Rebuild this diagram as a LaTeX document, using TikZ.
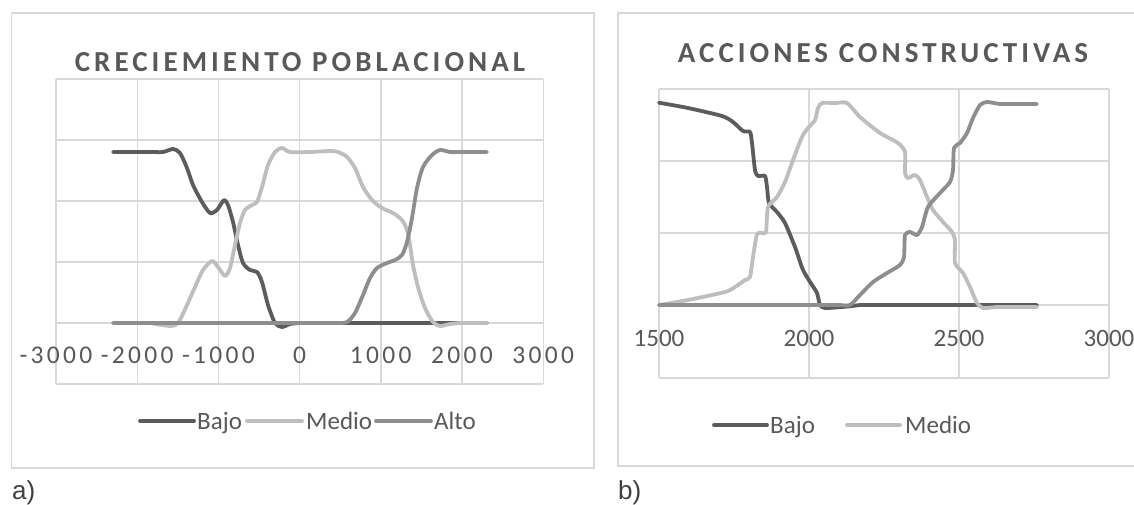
\documentclass[tikz,border=0pt]{standalone}
\usepackage{fontspec}
\setmainfont{Carlito}
\newfontfamily\ttlfont{Carlito}[LetterSpace=14]
\newfontfamily\tickafont{Carlito}[LetterSpace=13]
\newfontfamily\capfont{Liberation Sans}
\definecolor{bajoc}{RGB}{92,92,92}
\definecolor{medioc}{RGB}{190,190,190}
\definecolor{altoc}{RGB}{142,142,142}
\definecolor{gridc}{RGB}{217,217,217}
\definecolor{txtc}{RGB}{89,89,89}
\tikzset{
  frame/.style={draw=gridc, line width=1.6},
  gridline/.style={draw=gridc, line width=1.4},
  curve/.style={line width=3.8, line cap=round, line join=round},
  legline/.style={line width=3.8, line cap=round},
  ticka/.style={inner sep=0, text=txtc, font=\tickafont\fontsize{25.5}{28}\selectfont},
  tickb/.style={inner sep=0, text=txtc, font=\fontsize{25}{28}\selectfont},
  legtext/.style={inner sep=0, anchor=base west, text=txtc, font=\fontsize{25}{28}\selectfont},
  ttl/.style={inner sep=0, anchor=base, text=txtc, font=\ttlfont\bfseries\fontsize{29}{32}\selectfont},
  captxt/.style={inner sep=0, anchor=base west, text=black!75, font=\capfont\fontsize{26}{28}\selectfont}
}
\begin{document}
\begin{tikzpicture}[x=1pt,y=-1pt]
\useasboundingbox (0,0) rectangle (1134,504);
\fill[white] (0,0) rectangle (1134,504);

% ---------------- chart a ----------------
\draw[frame] (11.5,13) rectangle (594,468);
\foreach \x in {56,137.2,218.4,299.6,380.8,462,543.2} \draw[gridline] (\x,79) -- (\x,384);
\foreach \y in {79,140,201,262,323,384} \draw[gridline] (56,\y) -- (543.2,\y);

\node[ttl] (titlea) at (300,71.7) {CRECIEMIENTO POBLACIONAL};

\foreach \x/\t [count=\i] in {56/-3000,137.2/-2000,218.4/-1000,299.6/0,380.8/1000,462/2000,543.2/3000}
  \node[ticka] (ta\i) at (\x,355) {\t};

% Bajo a
\draw[curve, bajoc] plot[smooth, tension=0.45] coordinates {
 (113,152) (150,152) (163,152) (173,149) (180,153) (187,168) (193,185) (202,202) (210,213)
 (217,210) (224,200) (228,205) (233,222) (238,245) (243,263) (250,270) (257,272) (262,282)
 (268,305) (275,323) (282,327) (290,324) (300,323)} -- (487,323);
% Medio a
\draw[curve, medioc] (113,323) -- (150,323) plot[smooth, tension=0.45] coordinates {
 (150,323) (170,326) (178,323) (187,305) (195,287) (203,270) (212,261) (218,267) (225,276)
 (230,268) (235,245) (240,223) (245,210) (252,205) (257,202) (262,187) (268,165) (275,152)
 (282,148) (290,152) (310,152) (330,151) (338,152) (347,157) (355,168) (363,187) (372,200)
 (382,208) (393,213) (402,220) (407,230) (410,245) (413,265) (418,287) (425,308) (433,322)
 (440,326) (450,324) (460,323)} -- (487,323);
% Alto a
\draw[curve, altoc] (113,323) -- (320,323) plot[smooth, tension=0.45] coordinates {
 (320,323) (337,323) (347,322) (355,313) (363,295) (370,278) (377,268) (387,263) (395,260)
 (402,255) (407,242) (412,218) (417,188) (423,167) (432,155) (440,150) (450,152) (460,152)} -- (487,152);

% legend a
\coordinate (lba1) at (140,421); \coordinate (lba2) at (194,421);
\draw[legline, bajoc] (lba1) -- (lba2);
\node[legtext] (lta1) at (197,429) {Bajo};
\coordinate (lma1) at (247,421); \coordinate (lma2) at (302,421);
\draw[legline, medioc] (lma1) -- (lma2);
\node[legtext] (lta2) at (306,429) {Medio};
\coordinate (laa1) at (376,421); \coordinate (laa2) at (431,421);
\draw[legline, altoc] (laa1) -- (laa2);
\node[legtext] (lta3) at (434,429) {Alto};

\node[captxt] (capa) at (12,499) {a)};

% ---------------- chart b ----------------
\draw[frame] (1136,13) -| (618,466) -- (1136,466);
\foreach \x in {659,809,959,1109} \draw[gridline] (\x,89) -- (\x,378);
\foreach \y in {89,161,233,305,378} \draw[gridline] (659,\y) -- (1109,\y);

\node[ttl] (titleb) at (883,62.3) {ACCIONES CONSTRUCTIVAS};

\foreach \x/\t [count=\i] in {659/1500,809/2000,959/2500,1109/3000}
  \node[tickb] (tb\i) at (\x,338) {\t};

% Bajo b
\draw[curve, bajoc] plot[smooth, tension=0.4] coordinates {
 (659,102.7) (688,108) (722,116) (733,122) (743,131) (750,132) (752,143) (755,170) (758,176)
 (765,176) (767,187) (769,203) (777,212) (785,223) (795,247) (803,270) (812,285) (817,293)
 (820,305) (825,308) (842,307) (852,306) (860,305)} -- (1037,305);
% Medio b
\draw[curve, medioc] plot[smooth, tension=0.4] coordinates {
 (659,305) (688,300) (725,292) (735,287) (745,280) (750,277) (753,257) (757,234) (762,233)
 (766,232) (768,207) (777,197) (785,182) (793,160) (802,137) (808,128) (815,120) (818,108)
 (822,103) (835,103) (847,103) (860,117) (880,133) (898,143) (905,152) (905,173) (908,178)
 (915,175) (920,180) (927,197) (933,210) (943,222) (952,232) (955,240) (955,263) (963,273)
 (970,287) (977,303) (983,308) (997,307) (1010,307)} -- (1037,307);
% Alto b
\draw[curve, altoc] (659,305) -- (840,305) plot[smooth, tension=0.4] coordinates {
 (840,305) (850,305) (860,295) (873,282) (887,273) (900,265) (904,257) (905,235) (910,232)
 (917,235) (922,227) (928,207) (940,193) (950,182) (953,170) (954,148) (960,143) (967,133)
 (973,118) (980,105) (987,102) (1000,104) (1010,104)} -- (1037,104);

% legend b
\coordinate (lbb1) at (714,425); \coordinate (lbb2) at (767,425);
\draw[legline, bajoc] (lbb1) -- (lbb2);
\node[legtext] (ltb1) at (770,433) {Bajo};
\coordinate (lmb1) at (847,425); \coordinate (lmb2) at (900,425);
\draw[legline, medioc] (lmb1) -- (lmb2);
\node[legtext] (ltb2) at (905,433) {Medio};

\node[captxt] (capb) at (618,499) {b)};
\end{tikzpicture}
\end{document}
